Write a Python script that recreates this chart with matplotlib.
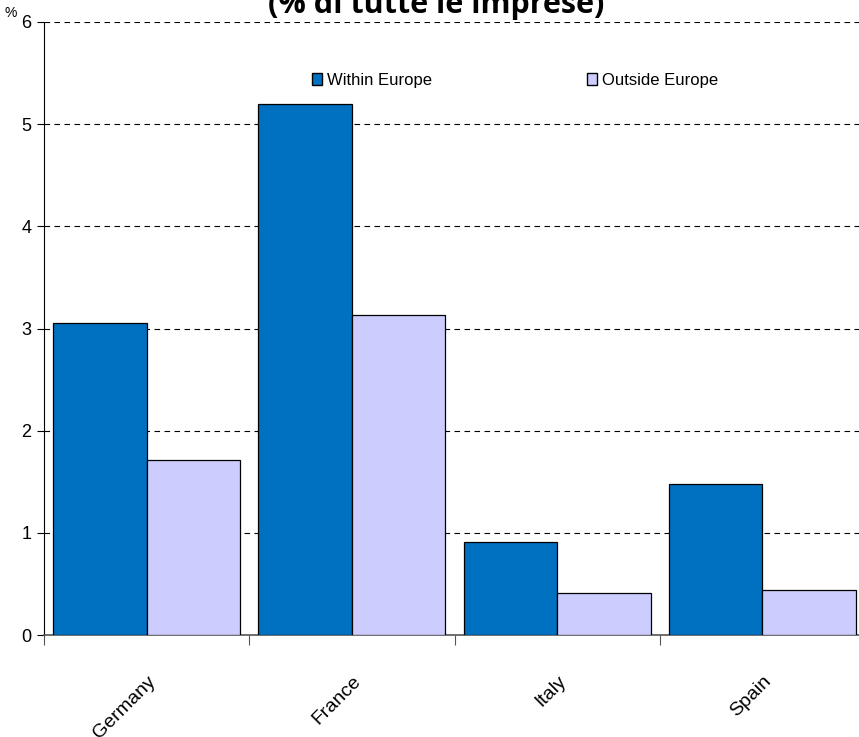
import matplotlib.pyplot as plt
import numpy as np
from matplotlib.patches import Patch

paesi = ["Germany", "France", "Italy", "Spain"]
within_europe = [3.05, 5.20, 0.91, 1.48]
outside_europe = [1.71, 3.13, 0.41, 0.44]
titolo = "(% di tutte le imprese)"

col_within = "#0070C0"
col_outside = "#CCCCFF"
font_lab = ["Liberation Sans", "DejaVu Sans"]

fig = plt.figure(figsize=(8.59, 7.37), dpi=100)
ax = fig.add_axes([44 / 859, 102 / 737, 821 / 859, 613 / 737])

x = np.arange(len(paesi))
w = 0.455
ax.bar(x + 0.5 - w / 2, within_europe, w, color=col_within, edgecolor="black", linewidth=0.9, zorder=3)
ax.bar(x + 0.5 + w / 2, outside_europe, w, color=col_outside, edgecolor="black", linewidth=0.9, zorder=3)

ax.set_xlim(0, 4)
ax.set_ylim(0, 6)
for y in range(1, 7):
    ax.axhline(y, color="black", linestyle=(0, (5, 4)), linewidth=0.8, zorder=1)

ax.set_yticks(range(0, 7))
ax.set_yticklabels([str(v) for v in range(0, 7)], family=font_lab, fontsize=13)
ax.set_xticks([0, 1, 2, 3])
ax.set_xticklabels([])
ax.set_xticks(x + 0.5, minor=True)
ax.set_xticklabels(paesi, minor=True, rotation=45, ha="right", va="top",
                   rotation_mode="anchor", family=font_lab, fontsize=14)
ax.tick_params(axis="x", which="minor", length=0, pad=27)
ax.tick_params(axis="x", which="major", length=7, direction="out", color="#555555")
ax.tick_params(axis="y", length=5, direction="out", pad=4)

for s in ["top", "right"]:
    ax.spines[s].set_visible(False)
ax.spines["left"].set_color("black")
ax.spines["bottom"].set_color("#555555")
ax.spines["bottom"].set_linewidth(1.2)

fig.text(11 / 859, 1 - 13 / 737, "%", family=font_lab, fontsize=10, ha="center", va="center")

handles = [Patch(facecolor=col_within, edgecolor="black"),
           Patch(facecolor=col_outside, edgecolor="black")]
fig.legend(handles, ["Within Europe", "Outside Europe"], ncol=2, frameon=False,
           loc="center left", bbox_to_anchor=(297 / 859, 1 - 80 / 737),
           handlelength=0.6, handleheight=0.75, handletextpad=0.3, columnspacing=9.3,
           prop={"family": font_lab, "size": 12})

fig.text(436 / 859, 1 - 13 / 737, titolo, ha="center", va="baseline",
         fontsize=22, fontweight="bold", family=["Open Sans", "DejaVu Sans"])

fig.savefig("out.png", dpi=100)
